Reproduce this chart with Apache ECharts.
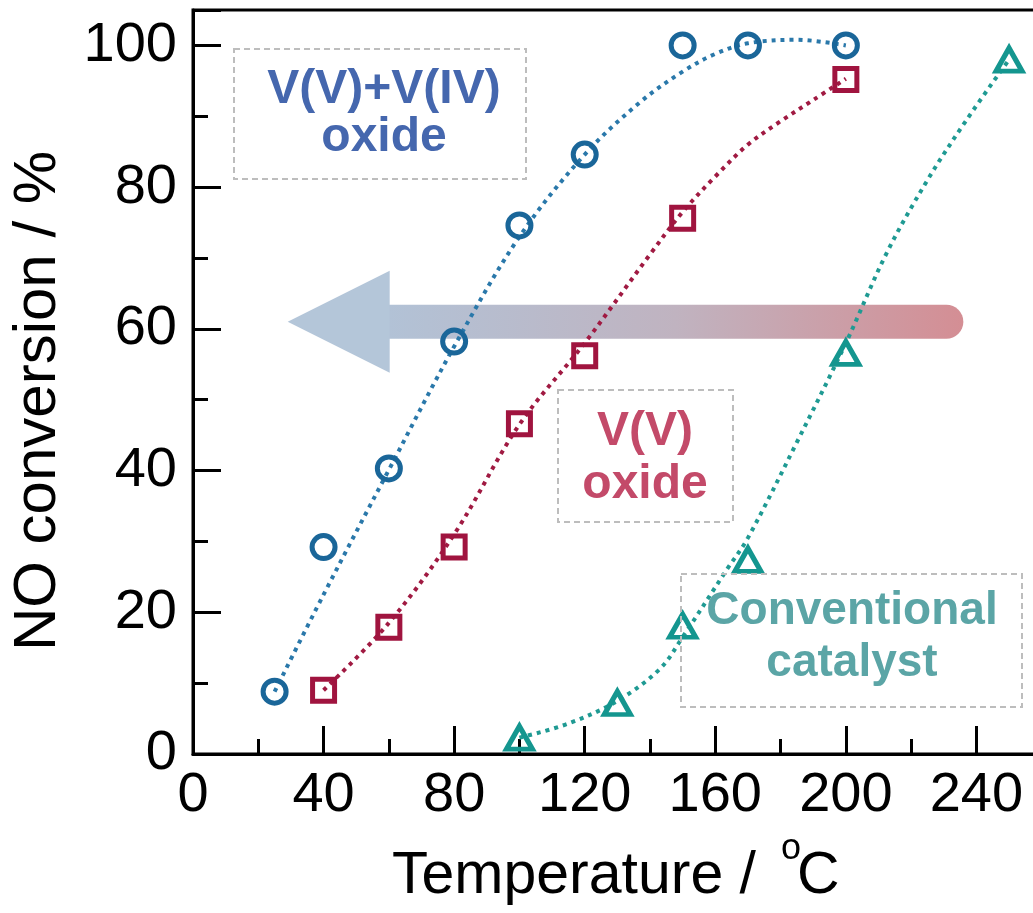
<!DOCTYPE html>
<html><head><meta charset="utf-8">
<script src="https://cdn.jsdelivr.net/npm/echarts@6/dist/echarts.min.js"></script>
<style>html,body{margin:0;padding:0;background:#fff}#c{width:1033px;height:913px}</style>
</head><body><div id="c"></div>
<script>
// ---- data ----
const xTickLabels = [0, 40, 80, 120, 160, 200, 240];
const yTickLabels = [0, 20, 40, 60, 80, 100];

// measured points: V(V)+V(IV) oxide (circles)
const tempMixed = [25, 40, 60, 80, 100, 120, 150, 170, 200];
const convMixed = [8.8, 29.2, 40.3, 58.2, 74.6, 84.6, 100, 100, 100];
// V(V) oxide (squares)
const tempV5 = [40, 60, 80, 100, 120, 150, 200];
const convV5 = [9.0, 17.9, 29.2, 46.6, 56.2, 75.6, 95.2];
// Conventional catalyst (triangles)
const tempConv = [100, 130, 150, 170, 200, 250];
const convConv = [2.3, 7.2, 18.1, 27.4, 56.6, 98.0];

// dotted guide curves
const fitMixedT = [25, 40, 60, 80, 100, 120, 137, 150, 160, 170, 185, 200];
const fitMixedV = [8.8, 22.5, 40.1, 57.5, 73, 84.6, 92, 96.3, 98.8, 100.3, 100.8, 100];
const fitV5T = [40, 60, 80, 100, 120, 140, 150, 160, 170, 180, 190, 200];
const fitV5V = [9, 18.5, 31, 46.5, 58, 70.5, 76.5, 81.5, 86, 89.3, 92.3, 95.3];
const fitConvT = [100, 115, 130, 143, 150, 163.5, 170, 185, 200, 212.5, 225, 237, 250];
const fitConvV = [2.3, 4.3, 7.5, 12, 16.5, 26, 30.5, 44, 58, 70.7, 81, 89.5, 98];

// big arrow (tail -> tip), in data units
const arrowTail = [236, 61];
const arrowTip = [29, 61];

const zip = (a, b) => a.map((v, i) => [v, b[i]]);
const FONT = '"Liberation Sans", Arial, Helvetica, sans-serif';

const chart = echarts.init(document.getElementById('c'), null, {renderer: 'canvas'});

function renderArrow(params, api) {
  const a = api.coord([api.value(0), api.value(1)]);
  const b = api.coord([api.value(2), api.value(3)]);
  const half = 17, headHalf = 51, headLen = 102;
  const xTip = b[0], y = b[1], xBack = xTip + headLen, xTail = a[0];
  return {
    type: 'group',
    children: [
      {
        type: 'rect',
        shape: {x: xBack - 1, y: y - half, width: xTail - xBack + 1, height: 2 * half, r: [0, half, half, 0]},
        style: {fill: new echarts.graphic.LinearGradient(0, 0, 1, 0, [
          {offset: 0, color: '#b2c2d6'},
          {offset: 0.5, color: '#c0b3c0'},
          {offset: 1, color: '#d48e94'}
        ])}
      },
      {
        type: 'polygon',
        shape: {points: [[xTip, y], [xBack, y - headHalf], [xBack, y + headHalf]]},
        style: {fill: '#b4c6d9'}
      }
    ]
  };
}

const dotted = [4, 5];

const option = {
  animation: false,
  backgroundColor: '#fff',
  grid: {left: 193, top: 10, bottom: 159, width: 914, outerBoundsMode: 'none', containLabel: false,
    show: true, borderColor: '#000', borderWidth: 3, backgroundColor: 'transparent'},
  xAxis: [
    {
      type: 'value', min: 0, max: 280, interval: 40, position: 'bottom',
      axisLine: {lineStyle: {color: '#000', width: 3}},
      axisTick: {inside: true, length: 28, lineStyle: {color: '#000', width: 3}},
      axisLabel: {color: '#000', fontSize: 56, fontFamily: FONT, margin: 14,
        formatter: v => xTickLabels.includes(v) ? String(v) : ''},
      splitLine: {show: false}
    },
    {
      type: 'value', min: 0, max: 280, interval: 20, position: 'bottom',
      axisLine: {show: false},
      axisTick: {inside: true, length: 15, lineStyle: {color: '#000', width: 3}},
      axisLabel: {show: false}, splitLine: {show: false}
    }
  ],
  yAxis: [
    {
      type: 'value', min: 0, max: 105, interval: 20, position: 'left',
      axisLine: {show: true, lineStyle: {color: '#000', width: 3}},
      axisTick: {show: true, inside: true, length: 28, lineStyle: {color: '#000', width: 3}},
      axisLabel: {color: '#000', fontSize: 56, fontFamily: FONT, margin: 16,
        formatter: v => yTickLabels.includes(v) ? String(v) : ''},
      splitLine: {show: false}
    },
    {
      type: 'value', min: 0, max: 105, interval: 10, position: 'left',
      axisLine: {show: false},
      axisTick: {show: true, inside: true, length: 15, lineStyle: {color: '#000', width: 3}},
      axisLabel: {show: false}, splitLine: {show: false}
    }
  ],
  series: [
    {type: 'custom', silent: true, z: 1, renderItem: renderArrow, clip: false,
      data: [[arrowTail[0], arrowTail[1], arrowTip[0], arrowTip[1]]], encode: {x: [0, 2], y: [1, 3]}},
    {type: 'line', z: 2, data: zip(fitMixedT, fitMixedV), smooth: 0.35, showSymbol: false, symbol: 'none',
      lineStyle: {color: '#2a78aa', width: 4, type: dotted}},
    {type: 'line', z: 2, data: zip(fitV5T, fitV5V), smooth: 0.35, showSymbol: false, symbol: 'none',
      lineStyle: {color: '#a01a42', width: 4, type: dotted}},
    {type: 'line', z: 2, data: zip(fitConvT, fitConvV), smooth: 0.35, showSymbol: false, symbol: 'none',
      lineStyle: {color: '#1f9a93', width: 4, type: dotted}},
    {type: 'scatter', z: 3, data: zip(tempMixed, convMixed), symbol: 'circle', symbolSize: 23,
      itemStyle: {color: 'rgba(0,0,0,0)', borderColor: '#1a6699', borderWidth: 5, opacity: 1}},
    {type: 'scatter', z: 3, data: zip(tempV5, convV5), symbol: 'rect', symbolSize: 22,
      itemStyle: {color: 'rgba(0,0,0,0)', borderColor: '#a0143f', borderWidth: 5, opacity: 1}},
    {type: 'scatter', z: 3, data: zip(tempConv, convConv), symbol: 'triangle', symbolSize: [26, 23],
      itemStyle: {color: 'rgba(0,0,0,0)', borderColor: '#14968f', borderWidth: 5, opacity: 1}}
  ],
  graphic: [
    // annotation boxes
    {type: 'rect', z: 5, shape: {x: 234, y: 49, width: 292, height: 130},
      style: {fill: 'none', stroke: '#bdbdbd', lineWidth: 2, lineDash: [6, 4]}},
    {type: 'text', z: 6, x: 384, y: 90, style: {text: 'V(V)+V(IV)', fill: '#4567ae', fontSize: 48, fontWeight: 'bold', fontFamily: FONT, align: 'center', verticalAlign: 'middle'}},
    {type: 'text', z: 6, x: 384, y: 138, style: {text: 'oxide', fill: '#4567ae', fontSize: 48, fontWeight: 'bold', fontFamily: FONT, align: 'center', verticalAlign: 'middle'}},

    {type: 'rect', z: 5, shape: {x: 558, y: 390, width: 175, height: 132},
      style: {fill: 'none', stroke: '#bdbdbd', lineWidth: 2, lineDash: [6, 4]}},
    {type: 'text', z: 6, x: 645, y: 432, style: {text: 'V(V)', fill: '#c34a69', fontSize: 48, fontWeight: 'bold', fontFamily: FONT, align: 'center', verticalAlign: 'middle'}},
    {type: 'text', z: 6, x: 645, y: 485, style: {text: 'oxide', fill: '#c34a69', fontSize: 48, fontWeight: 'bold', fontFamily: FONT, align: 'center', verticalAlign: 'middle'}},

    {type: 'rect', z: 5, shape: {x: 681, y: 574, width: 341, height: 133},
      style: {fill: 'none', stroke: '#bdbdbd', lineWidth: 2, lineDash: [6, 4]}},
    {type: 'text', z: 6, x: 852, y: 611, style: {text: 'Conventional', fill: '#5ba5a6', fontSize: 46, fontWeight: 'bold', fontFamily: FONT, align: 'center', verticalAlign: 'middle'}},
    {type: 'text', z: 6, x: 852, y: 663, style: {text: 'catalyst', fill: '#5ba5a6', fontSize: 46, fontWeight: 'bold', fontFamily: FONT, align: 'center', verticalAlign: 'middle'}},

    // axis titles
    {type: 'text', z: 6, x: 38, y: 401, rotation: Math.PI / 2,
      style: {text: 'NO conversion / %', fill: '#000', fontSize: 60, fontFamily: FONT, align: 'center', verticalAlign: 'middle'}},
    {type: 'text', z: 6, x: 392, y: 877,
      style: {text: 'Temperature / ', fill: '#000', fontSize: 59, fontFamily: FONT, align: 'left', verticalAlign: 'middle'}},
    {type: 'text', z: 6, x: 781, y: 849,
      style: {text: 'o', fill: '#000', fontSize: 36, fontFamily: FONT, align: 'left', verticalAlign: 'middle'}},
    {type: 'text', z: 6, x: 797, y: 877,
      style: {text: 'C', fill: '#000', fontSize: 59, fontFamily: FONT, align: 'left', verticalAlign: 'middle'}}
  ]
};
chart.setOption(option);
</script>
</body></html>
